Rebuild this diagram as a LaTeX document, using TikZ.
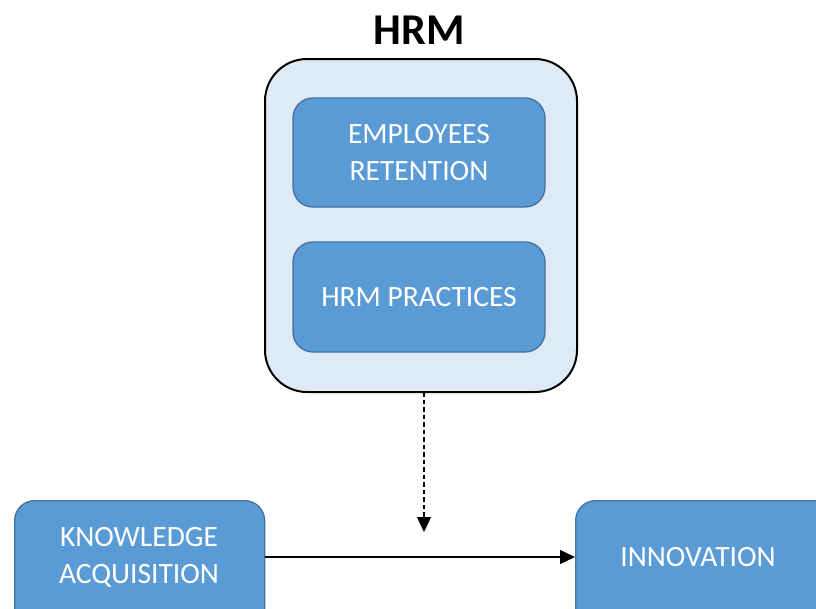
\documentclass[tikz,border=0pt]{standalone}
\usepackage{fontspec}
\setmainfont{Carlito}
\usetikzlibrary{arrows.meta}
\definecolor{boxblue}{HTML}{5B9BD5}
\definecolor{boxedge}{HTML}{41719C}
\definecolor{outerfill}{HTML}{DEEAF6}
\tikzset{
  boxfont/.style={font=\fontsize{29.5}{37}\selectfont},
  bluebox/.style={draw=boxedge, line width=1.3pt, fill=boxblue, rounded corners=20pt,
    text=white, boxfont, align=center},
  outerbox/.style={draw=black, line width=2pt, fill=outerfill, rounded corners=42pt},
  conn/.style={line width=1.2pt, -{Triangle[length=15pt,width=14pt]}},
}
\begin{document}
\begin{tikzpicture}[x=1pt,y=-1pt]
\useasboundingbox (0,0) rectangle (816,608);
\node[font=\fontsize{44}{50}\selectfont\bfseries, anchor=base] (title) at (419,44) {HRM};
\draw[outerbox] (265,59) rectangle (577,392);
\coordinate (hrmbot) at (424,392);
\node[bluebox, minimum width=252pt, minimum height=109pt] (emp) at (419,152.5) {EMPLOYEES\\RETENTION};
\node[bluebox, minimum width=252pt, minimum height=110pt] (prac) at (419,297) {HRM PRACTICES};
\node[bluebox, minimum width=250pt, minimum height=140pt, anchor=north west] (ka) at (14,500) {};
\node[text=white, boxfont, align=center] (katext) at (139,557) {KNOWLEDGE\\ACQUISITION};
\node[bluebox, minimum width=280pt, minimum height=140pt, anchor=north west] (inn) at (575,500) {};
\node[text=white, boxfont] (inntext) at (698,557) {INNOVATION};
\coordinate (mid) at (424,532);
\draw[conn, dashed, dash pattern=on 4.5pt off 3pt] (hrmbot) -- (mid);
\draw[conn] (ka.east |- katext) -- (inn.west |- katext);
\end{tikzpicture}
\end{document}
